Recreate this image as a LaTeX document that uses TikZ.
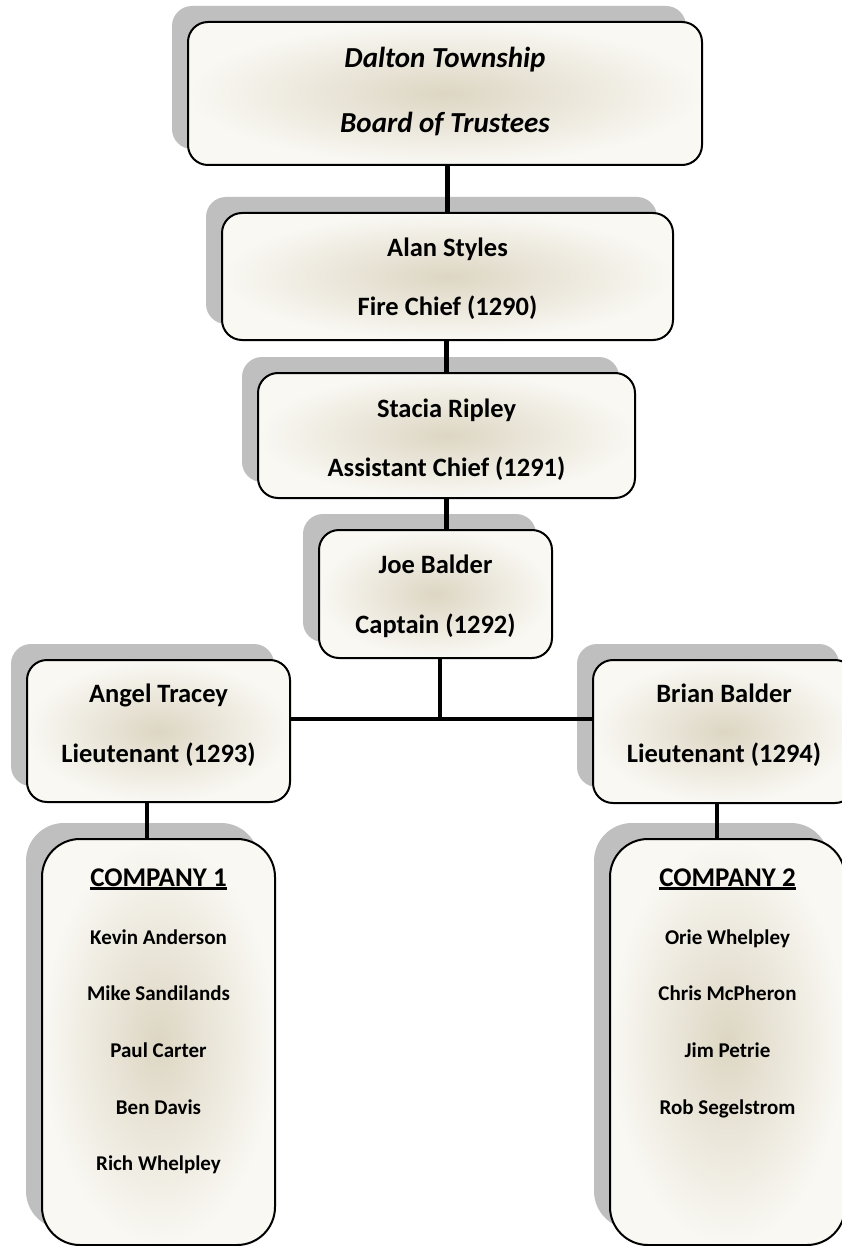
\documentclass[tikz,border=0pt]{standalone}
\usepackage{fontspec}
\setmainfont{Carlito}
\usetikzlibrary{shadows}
\definecolor{shadowgray}{HTML}{BFBFBF}
\definecolor{boxin}{HTML}{DDD6C3}
\definecolor{boxout}{HTML}{F9F8F3}
\newcommand\myul[1]{\setbox0\hbox{#1}\rlap{\rule[-3.5pt]{\wd0}{2.2pt}}\box0}
\begin{document}
\begin{tikzpicture}[x=1pt,y=-1pt,
  orgbox/.style={draw=black, line width=2pt, rounded corners=20pt,
    inner color=boxin, outer color=boxout, inner sep=0pt,
    drop shadow={shadow xshift=-16pt, shadow yshift=16pt, fill=shadowgray, opacity=1}},
  compbox/.style={orgbox, rounded corners=38pt},
  conn/.style={line width=4.5pt, draw=black},
  boxtxt/.style={font=\bfseries\fontsize{26.5}{30}\selectfont, anchor=base, inner sep=0pt},
  toptxt/.style={boxtxt, font=\bfseries\itshape\fontsize{29}{32}\selectfont},
  comphead/.style={boxtxt, font=\bfseries\fontsize{27}{32}\selectfont},
  nametxt/.style={boxtxt, font=\bfseries\fontsize{21}{25}\selectfont}]
\useasboundingbox (0,0) rectangle (842,1246);
\fill[white] (0,0) rectangle (842,1246);

% boxes
\node[orgbox, minimum width=514pt, minimum height=143pt] (T) at (445,93.5) {};
\node[orgbox, minimum width=451pt, minimum height=127pt] (A) at (447.5,276.5) {};
\node[orgbox, minimum width=377pt, minimum height=125pt] (S) at (446.5,435.5) {};
\node[orgbox, minimum width=233pt, minimum height=128pt] (J) at (435.5,594) {};
\node[orgbox, minimum width=263pt, minimum height=142pt] (L1) at (158.5,731) {};
\node[orgbox, minimum width=262pt, minimum height=143pt] (L2) at (724,731.5) {};
\node[compbox, minimum width=233pt, minimum height=406pt] (C1) at (158.5,1042) {};
\node[compbox, minimum width=235pt, minimum height=406pt] (C2) at (727.5,1042) {};

% connectors
\coordinate (hub) at (440,719);
\draw[conn] (T.south -| A.north) -- (A.north);
\draw[conn] (A.south -| S.north) -- (S.north);
\draw[conn] (S.south) -- (S.south |- J.north);
\draw[conn] (J.south -| hub) -- (hub);
\draw[conn] (L1.east |- hub) -- (L2.west |- hub);
\draw[conn] ([xshift=-11.5pt]L1.south) -- ([xshift=-11.5pt]L1.south |- C1.north);
\draw[conn] ([xshift=-7pt]L2.south) -- ([xshift=-7pt]L2.south |- C2.north);

% texts
\node[toptxt] (t1) at (445,68) {Dalton Township};
\node[toptxt] (t2) at (445,133) {Board of Trustees};
\node[boxtxt] (a1) at (447.5,257) {Alan Styles};
\node[boxtxt] (a2) at (447.5,316) {Fire Chief (1290)};
\node[boxtxt] (s1) at (446.5,417) {Stacia Ripley};
\node[boxtxt] (s2) at (446.5,476) {Assistant Chief (1291)};
\node[boxtxt] (j1) at (435.5,573) {Joe Balder};
\node[boxtxt] (j2) at (435.5,633) {Captain (1292)};
\node[boxtxt] (l11) at (158.5,702) {Angel Tracey};
\node[boxtxt] (l12) at (158.5,762.5) {Lieutenant (1293)};
\node[boxtxt] (l21) at (724,702) {Brian Balder};
\node[boxtxt] (l22) at (724,762.5) {Lieutenant (1294)};

\node[comphead] (c1h) at (158.5,886) {\myul{COMPANY 1}};
\node[nametxt] (c1a) at (158.5,944) {Kevin Anderson};
\node[nametxt] (c1b) at (158.5,1000.7) {Mike Sandilands};
\node[nametxt] (c1c) at (158.5,1057.3) {Paul Carter};
\node[nametxt] (c1d) at (158.5,1114) {Ben Davis};
\node[nametxt] (c1e) at (158.5,1170.7) {Rich Whelpley};

\node[comphead] (c2h) at (727.5,886) {\myul{COMPANY 2}};
\node[nametxt] (c2a) at (727.5,944) {Orie Whelpley};
\node[nametxt] (c2b) at (727.5,1000.7) {Chris McPheron};
\node[nametxt] (c2c) at (727.5,1057.3) {Jim Petrie};
\node[nametxt] (c2d) at (727.5,1114) {Rob Segelstrom};
\end{tikzpicture}
\end{document}
